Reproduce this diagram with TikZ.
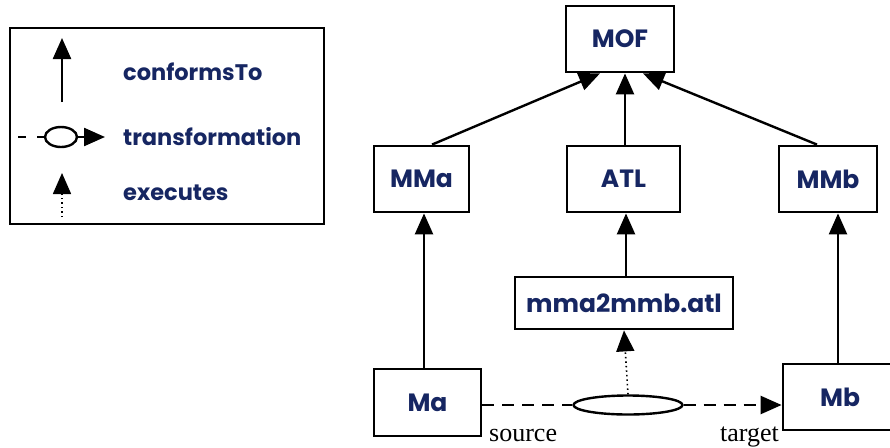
\documentclass[tikz,border=0pt]{standalone}
\usepackage{fontspec}
\setsansfont{Poppins}
\setmainfont{Liberation Serif}
\usepackage{xcolor}
\usetikzlibrary{shapes, arrows.meta, positioning, calc}
\definecolor{mdenavy}{RGB}{22,38,98}

\begin{document}
\begin{tikzpicture}[x=1pt,y=-1pt,line width=2.4pt,
    mbox/.style={draw,rectangle,line width=2.8pt,inner sep=0,text=mdenavy,
      font=\sffamily\bfseries\fontsize{25}{29}\selectfont},
    lgd/.style={anchor=west,inner sep=0,text=mdenavy,
      font=\sffamily\bfseries\fontsize{22.5}{26}\selectfont},
    role/.style={anchor=base,inner sep=0,font=\fontsize{26}{28}\selectfont},
    conf/.style={-{Triangle[length=21pt,width=18pt]}},
    exec/.style={-{Triangle[length=21pt,width=18pt]},line width=1.6pt,dash pattern=on 1.5pt off 3pt},
    trans/.style={dash pattern=on 12pt off 8pt}]
  \useasboundingbox (0,0) rectangle (890,447);

  \draw[line width=2.8pt] (10,28) rectangle (324,224);
  \coordinate (c0) at (62,102);
  \coordinate (c1) at (62,38);
  \draw[conf] (c0) -- (c1);
  \node[lgd] (lconf) at (122,72) {conformsTo};
  \node[draw,ellipse,minimum width=32,minimum height=20,inner sep=0] (lell) at (61,137) {};
  \coordinate (t0) at (18,137);
  \coordinate (t1) at (105,137);
  \draw[dash pattern=on 8pt off 11pt] (t0) -- (lell.west);
  \draw[conf] (lell.east) -- (t1);
  \node[lgd] (ltrans) at (122,137) {transformation};
  \coordinate (e0) at (62,217);
  \coordinate (e1) at (62,173);
  \draw[exec] (e0) -- (e1);
  \node[lgd] (lexec) at (122,193) {executes};

  \node[mbox,minimum width=108,minimum height=66] (MOF) at (620,39) {MOF};
  \node[mbox,minimum width=95,minimum height=66] (MMa) at (421.5,179) {MMa};
  \node[mbox,minimum width=113,minimum height=66] (ATL) at (623.5,179) {ATL};
  \node[mbox,minimum width=98,minimum height=66] (MMb) at (828,179) {MMb};
  \node[mbox,minimum width=218,minimum height=52] (code) at (624,303) {mma2mmb.atl};
  \node[mbox,minimum width=107,minimum height=67] (Ma) at (427.5,402.5) {Ma};
  \node[mbox,minimum width=114,minimum height=66] (Mb) at (840,397) {Mb};
  \node[draw,ellipse,minimum width=109,minimum height=19,inner sep=0] (engine) at (628,405) {};

  \draw[conf] ([xshift=10.5]MMa.north) -- ([xshift=-20]MOF.south);
  \draw[conf] ([xshift=1.5]ATL.north) -- ([xshift=5]MOF.south);
  \draw[conf] ([xshift=-11]MMb.north) -- ([xshift=23]MOF.south);
  \draw[conf] ([xshift=-3.5]Ma.north) -- ([xshift=2.5]MMa.south);
  \draw[conf] ([xshift=2]code.north) -- ([xshift=2.5]ATL.south);
  \draw[conf] ([xshift=-2]Mb.north) -- ([xshift=10]MMb.south);
  \draw[exec] (engine.north) -- (code.south);
  \draw[trans] (Ma.east |- engine.west) -- (engine.west);
  \draw[trans,conf] (engine.east) -- (Mb.west |- engine.east);

  \node[role,anchor=base west] (src) at (488,441) {source};
  \node[role,anchor=base east] (tgt) at (780,441) {target};
\end{tikzpicture}
\end{document}
